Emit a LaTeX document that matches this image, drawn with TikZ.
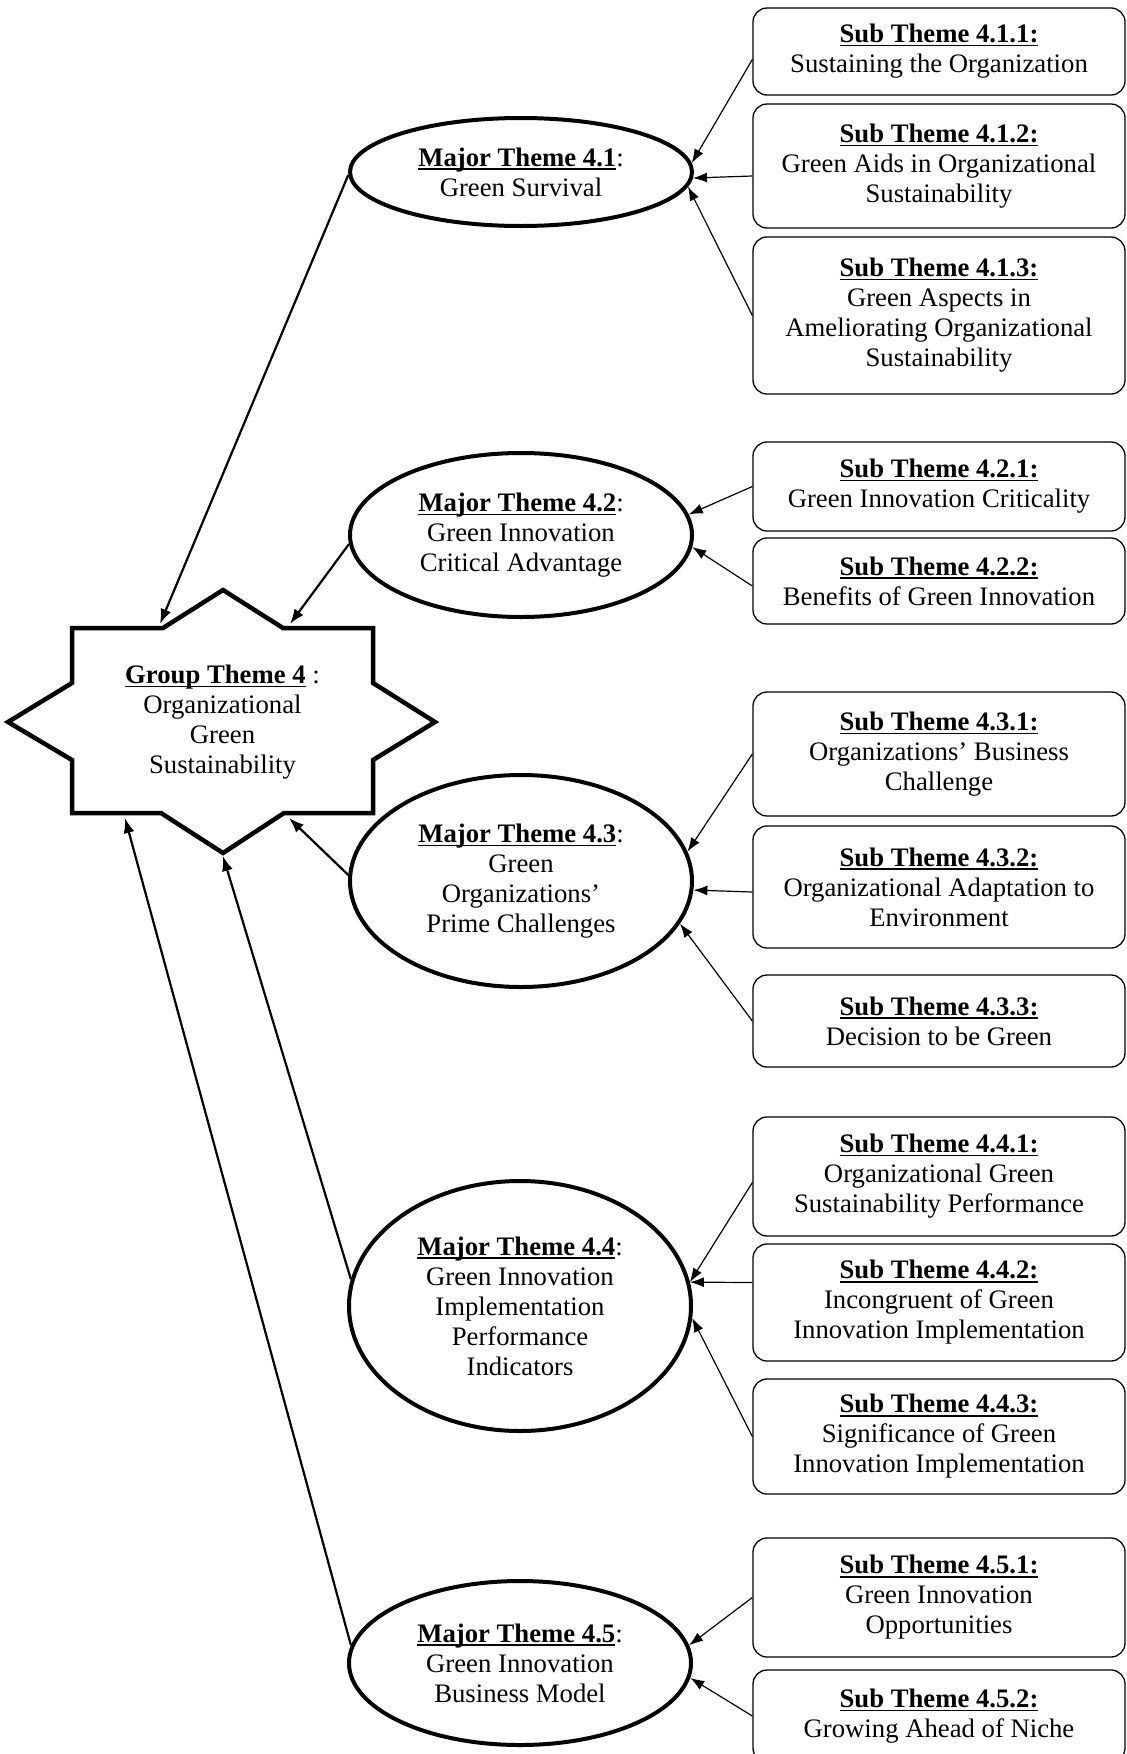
\documentclass[tikz,border=0pt]{standalone}
\usepackage{fontspec}
\setmainfont{Liberation Serif}
\usetikzlibrary{arrows.meta,shapes.geometric}
\newsavebox{\hdbox}
\newcommand{\hd}[1]{\sbox{\hdbox}{\textbf{#1}}\rlap{\rule[-3.6pt]{\wd\hdbox}{1.4pt}}\usebox{\hdbox}}
\newcommand{\fs}{\fontsize{26.7pt}{30pt}\selectfont}
\begin{document}
\begin{tikzpicture}[x=1pt,y=-1pt,
  ell/.style={ellipse, draw, line width=4pt, minimum width=342pt, inner sep=0pt, align=center, font=\fs},
  subbox/.style={rectangle, rounded corners=14pt, draw, line width=1.3pt, minimum width=372pt, inner sep=0pt, align=center, font=\fs},
  sa/.style={-{Latex[length=14pt,width=10pt]}, line width=1.2pt},
  ga/.style={-{Latex[length=15pt,width=11pt]}, line width=2.2pt},
  startext/.style={align=center, inner sep=0pt, font=\fs}]
\useasboundingbox (0,0) rectangle (1127,1754);

% star
\draw[line width=4.5pt, miter limit=10] (72,628) -- (163,628) -- (223,590) -- (283,628) -- (373,628) -- (373,683) -- (435,722) -- (373,760) -- (373,813) -- (284,813) -- (223,853) -- (161,813) -- (72,813) -- (72,760) -- (8,722) -- (72,683) -- cycle;
\node[startext] (g4) at (222.5,722) {\hd{Group Theme 4} :\\Organizational\\Green\\Sustainability};
\coordinate (s1) at (160,624);
\coordinate (s2) at (290,624);
\coordinate (s3) at (289,818);
\coordinate (s4) at (223,856);
\coordinate (s5) at (125,818);

% major themes
\node[ell, minimum height=108pt] (E1) at (521,172) {\hd{Major Theme 4.1}:\\Green Survival};
\node[ell, minimum height=164pt] (E2) at (521,535) {\hd{Major Theme 4.2}:\\Green Innovation\\Critical Advantage};
\node[ell, minimum height=212pt] (E3) at (521,881) {\hd{Major Theme 4.3}:\\Green\\Organizations’\\Prime Challenges};
\node[ell, minimum height=250pt] (E4) at (520,1306) {\hd{Major Theme 4.4}:\\Green Innovation\\Implementation\\Performance\\Indicators};
\node[ell, minimum height=164pt] (E5) at (520,1663) {\hd{Major Theme 4.5}:\\Green Innovation\\Business Model};

% sub themes
\node[subbox, minimum height=87pt] (b411) at (939,51.5) {\hd{Sub Theme 4.1.1:}\\Sustaining the Organization};
\node[subbox, minimum height=124pt] (b412) at (939,166) {\hd{Sub Theme 4.1.2:}\\Green Aids in Organizational\\Sustainability};
\node[subbox, minimum height=157pt] (b413) at (939,315.5) {\hd{Sub Theme 4.1.3:}\\Green Aspects in\\Ameliorating Organizational\\Sustainability};
\node[subbox, minimum height=89pt] (b421) at (939,486.5) {\hd{Sub Theme 4.2.1:}\\Green Innovation Criticality};
\node[subbox, minimum height=86pt] (b422) at (939,581) {\hd{Sub Theme 4.2.2:}\\Benefits of Green Innovation};
\node[subbox, minimum height=124pt] (b431) at (939,754) {\hd{Sub Theme 4.3.1:}\\Organizations’ Business\\Challenge};
\node[subbox, minimum height=122pt] (b432) at (939,887) {\hd{Sub Theme 4.3.2:}\\Organizational Adaptation to\\Environment};
\node[subbox, minimum height=92pt] (b433) at (939,1021) {\hd{Sub Theme 4.3.3:}\\Decision to be Green};
\node[subbox, minimum height=119pt] (b441) at (939,1176.5) {\hd{Sub Theme 4.4.1:}\\Organizational Green\\Sustainability Performance};
\node[subbox, minimum height=117pt] (b442) at (939,1302.5) {\hd{Sub Theme 4.4.2:}\\Incongruent of Green\\Innovation Implementation};
\node[subbox, minimum height=115pt] (b443) at (939,1436.5) {\hd{Sub Theme 4.4.3:}\\Significance of Green\\Innovation Implementation};
\node[subbox, minimum height=119pt] (b451) at (939,1597.5) {\hd{Sub Theme 4.5.1:}\\Green Innovation\\Opportunities};
\node[subbox, minimum height=92pt] (b452) at (939,1716) {\hd{Sub Theme 4.5.2:}\\Growing Ahead of Niche};

% sub -> major
\draw[sa] ([yshift=-8pt]b411.west) -- (E1.3);
\draw[sa] ([yshift=-10pt]b412.west) -- (E1.-2);
\draw[sa] (b413.west) -- (E1.-5);
\draw[sa] (b421.west) -- (E2.7);
\draw[sa] ([yshift=-5pt]b422.west) -- (E2.-4);
\draw[sa] (b431.west) -- (E3.10);
\draw[sa] ([yshift=-5pt]b432.west) -- (E3.-3);
\draw[sa] (b433.west) -- (E3.-15);
\draw[sa] ([yshift=-6pt]b441.west) -- (E4.8);
\draw[sa] ([yshift=20pt]b442.west) -- (E4.8);
\draw[sa] (b443.west) -- (E4.-4);
\draw[sa] (b451.west) -- (E5.6);
\draw[sa] (b452.west) -- (E5.-5);

% major -> group
\draw[ga] (E1.181) -- (s1);
\draw[ga] (E2.183) -- (s2);
\draw[ga] (E3.178) -- (s3);
\draw[ga] (E4.171) -- (s4);
\draw[ga] (E5.174) -- (s5);
\end{tikzpicture}
\end{document}
